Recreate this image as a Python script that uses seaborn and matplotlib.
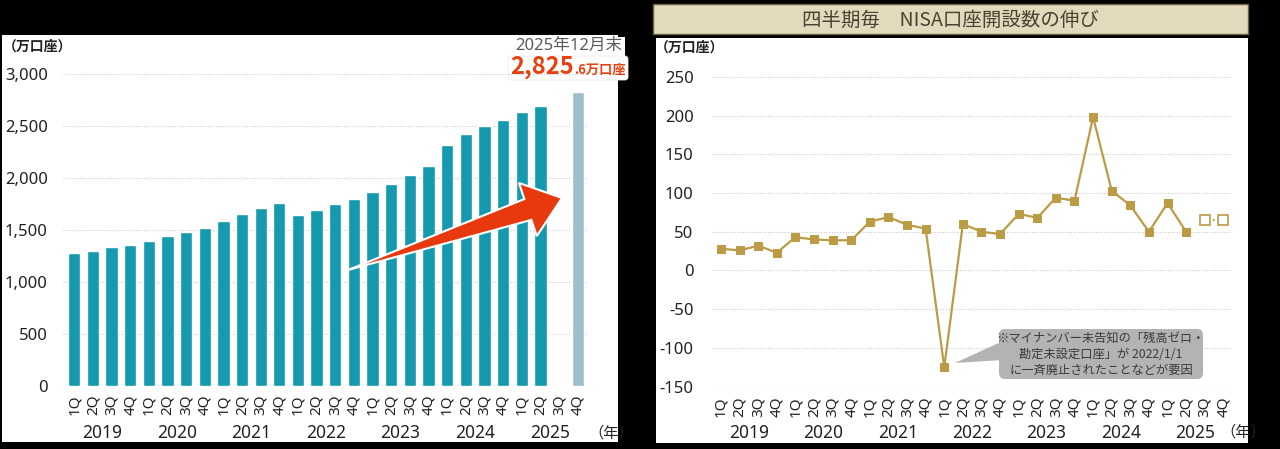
import numpy as np
import pandas as pd
import matplotlib
matplotlib.use("Agg")
import matplotlib.pyplot as plt
import matplotlib.transforms as mtrans
from matplotlib.patches import Rectangle, Polygon, FancyBboxPatch
import seaborn as sns

# ---------------- data ----------------
years = ["2019", "2020", "2021", "2022", "2023", "2024", "2025"]
quarters = ["1Q", "2Q", "3Q", "4Q"]
# NISA accounts (万口座), end of each quarter; 3Q 2025 not shown
accounts = [1276, 1301, 1337, 1359,
            1394, 1445, 1481, 1519,
            1583, 1654, 1708, 1760,
            1641, 1695, 1750, 1798,
            1865, 1939, 2026, 2115,
            2317, 2420, 2503, 2558,
            2638, 2689, np.nan, 2825.6]
account_kind = ["actual"] * 26 + ["none", "latest"]
# quarterly growth (万口座)
growth = [28, 26, 32, 23,
          43, 40, 39, 39,
          63, 69, 59, 54,
          -125, 60, 50, 47,
          73, 68, 94, 90,
          198, 103, 84, 50,
          87, 50]
growth_open = [65, 65]  # hollow markers, 3Q/4Q 2025

left_yticks = [0, 500, 1000, 1500, 2000, 2500, 3000]
right_yticks = [-150, -100, -50, 0, 50, 100, 150, 200, 250]

periods = [f"{y}-{q}" for y in years for q in quarters]
qlabels = [q for y in years for q in quarters]

# ---------------- style ----------------
sns.set_theme(style="white")
plt.rcParams["font.family"] = ["Noto Sans", "Noto Sans CJK JP", "DejaVu Sans"]
JP = ["Noto Sans CJK JP", "DejaVu Sans"]

W, H = 1280, 449
fig = plt.figure(figsize=(W / 100, H / 100), dpi=100, facecolor="black")
T = fig.dpi_scale_trans


def P(x, y):
    return (x / 100, (H - y) / 100)


def axrect(x0, y0, x1, y1):
    return [x0 / W, 1 - y1 / H, (x1 - x0) / W, (y1 - y0) / H]


# panels
fig.add_artist(Rectangle(P(2, 442), 6.16, 4.07, transform=T, fc="white", ec="none", zorder=-10))
fig.add_artist(Rectangle(P(656, 443), 5.92, 4.05, transform=T, fc="white", ec="none", zorder=-10))

TEAL = "#1599AE"
LIGHT = "#9DBFCC"
GOLD = "#BC9B47"
GRID = "#C9C9C9"
TXT = "#222222"
RED = "#E8400F"

# ---------------- left: bar chart ----------------
ax1 = fig.add_axes(axrect(63, 74, 587, 386))
ax1.set_facecolor("none")
df1 = pd.DataFrame({"period": periods, "value": accounts, "kind": account_kind}).dropna()
sns.barplot(data=df1, x="period", y="value", hue="kind", order=periods,
            palette={"actual": TEAL, "latest": LIGHT}, dodge=False, width=0.66,
            saturation=1, legend=False, ax=ax1)
ax1.set_xlim(-0.6, 27.5)
ax1.set_ylim(0, 3000)
ax1.set_yticks(left_yticks)
ax1.set_yticklabels([f"{v:,}" for v in left_yticks], fontsize=12, color=TXT)
ax1.set_xticks(range(len(periods)))
ax1.set_xticklabels(qlabels, rotation=90, fontsize=11, color=TXT)
ax1.tick_params(axis="y", length=0, pad=11)
ax1.tick_params(axis="x", length=0, pad=6)
ax1.set_xlabel("")
ax1.set_ylabel("")
ax1.yaxis.grid(True, color=GRID, ls=(0, (1, 1.5)), lw=0.8)
ax1.set_axisbelow(True)
sns.despine(ax=ax1, left=True, bottom=True)

tr1 = mtrans.blended_transform_factory(ax1.transData, fig.transFigure)
for i, y in enumerate(years):
    ax1.text(i * 4 + 1.5, 1 - 433 / H, y, transform=tr1, ha="center", va="center",
             fontsize=12.5, color=TXT)
fig.text(*P(588, 433), "（年）", transform=T, ha="left", va="center", fontsize=11,
         color=TXT, family=JP)
fig.text(*P(3, 47), "（万口座）", transform=T, ha="left", va="center", fontsize=10,
         weight="bold", color=TXT, family=JP)

# latest annotation
fig.add_artist(Rectangle(P(600, 57), 0.25, 0.20, transform=T, fc="white", ec="none", zorder=-5))
fig.add_artist(FancyBboxPatch(P(508, 80), 1.20, 0.24, transform=T,
                              boxstyle="round,pad=0,rounding_size=0.03",
                              fc="white", ec="#eeeeee", lw=0.6, zorder=-5))
fig.text(*P(622, 46), "2025年12月末", transform=T, ha="right", va="center",
         fontsize=12, color="#5a5a5a")
fig.text(*P(574, 74), "2,825", transform=T, ha="right", va="baseline",
         fontsize=17, weight="bold", color=RED, family=JP)
fig.text(*P(574, 74), ".6万口座", transform=T, ha="left", va="baseline",
         fontsize=9.5, weight="bold", color=RED, family=JP)

# big red arrow (decoration)
tail = np.array([348.0, 270.0])
tip = np.array([562.0, 198.0])
u = (tip - tail) / np.linalg.norm(tip - tail)
n = np.array([-u[1], u[0]])
if n[1] < 0:
    n = -n
B = tip - 36 * u
pts = [tail, B - 11 * n, B - 28 * n, tip, B + 28 * n, B + 11 * n]
fig.add_artist(Polygon([P(*p) for p in pts], closed=True, transform=T,
                       fc="#E8380D", ec="white", lw=1.5, zorder=5))

# ---------------- right: line chart ----------------
fig.add_artist(Rectangle(P(653, 34), 5.95, 0.30, transform=T, fc="#E3D9BC",
                         ec="#6b6046", lw=1, zorder=-5))
fig.text(*P(950.5, 20), "四半期毎　NISA口座開設数の伸び", transform=T, ha="center",
         va="center", fontsize=14, color="#4B4132", family=JP)

ax2 = fig.add_axes(axrect(711.7, 76.8, 1231.7, 386.7))
ax2.set_facecolor("none")
sns.lineplot(x=list(range(len(growth))), y=growth, marker="s", markersize=6,
             color=GOLD, lw=1.6, markeredgecolor=GOLD, estimator=None, ax=ax2)
sns.lineplot(x=[26, 27], y=growth_open, marker="s", markersize=6.5,
             color=GOLD, lw=1.4, ls=(0, (1, 3)), markerfacecolor="white",
             markeredgecolor=GOLD, markeredgewidth=1.2, estimator=None, ax=ax2)
ax2.set_xlim(-0.5, 27.45)
ax2.set_ylim(-150, 250)
ax2.set_yticks(right_yticks)
ax2.set_yticklabels([str(v) for v in right_yticks], fontsize=12, color=TXT)
ax2.set_xticks(range(len(periods)))
ax2.set_xticklabels(qlabels, rotation=90, fontsize=11, color=TXT)
ax2.tick_params(axis="y", length=0, pad=13)
ax2.tick_params(axis="x", length=0, pad=7)
ax2.set_xlabel("")
ax2.set_ylabel("")
ax2.yaxis.grid(True, color=GRID, ls=(0, (1, 1.5)), lw=0.8)
ax2.set_axisbelow(True)
sns.despine(ax=ax2, left=True, bottom=True)

tr2 = mtrans.blended_transform_factory(ax2.transData, fig.transFigure)
for i, y in enumerate(years):
    ax2.text(i * 4 + 1.5, 1 - 433 / H, y, transform=tr2, ha="center", va="center",
             fontsize=12.5, color=TXT)
fig.text(*P(1220, 432), "（年）", transform=T, ha="left", va="center", fontsize=11,
         color=TXT, family=JP)
fig.text(*P(655, 48), "（万口座）", transform=T, ha="left", va="center", fontsize=10,
         weight="bold", color=TXT, family=JP)

# callout
fig.add_artist(Polygon([P(955, 363), P(1003, 341), P(1003, 360)], closed=True,
                       transform=T, fc="#B3B3B3", ec="none", zorder=4))
fig.add_artist(FancyBboxPatch(P(999, 379), 2.04, 0.50, transform=T,
                              boxstyle="round,pad=0,rounding_size=0.06",
                              fc="#B3B3B3", ec="none", zorder=4))
fig.text(*P(1101, 354), "※マイナンバー未告知の「残高ゼロ・\n勘定未設定口座」が 2022/1/1\nに一斉廃止されたことなどが要因",
         transform=T, ha="center", va="center", multialignment="center",
         fontsize=8.8, linespacing=1.3, color="#3a3a3a", zorder=6, family=JP)

fig.savefig("out.png", dpi=100, facecolor="black")
